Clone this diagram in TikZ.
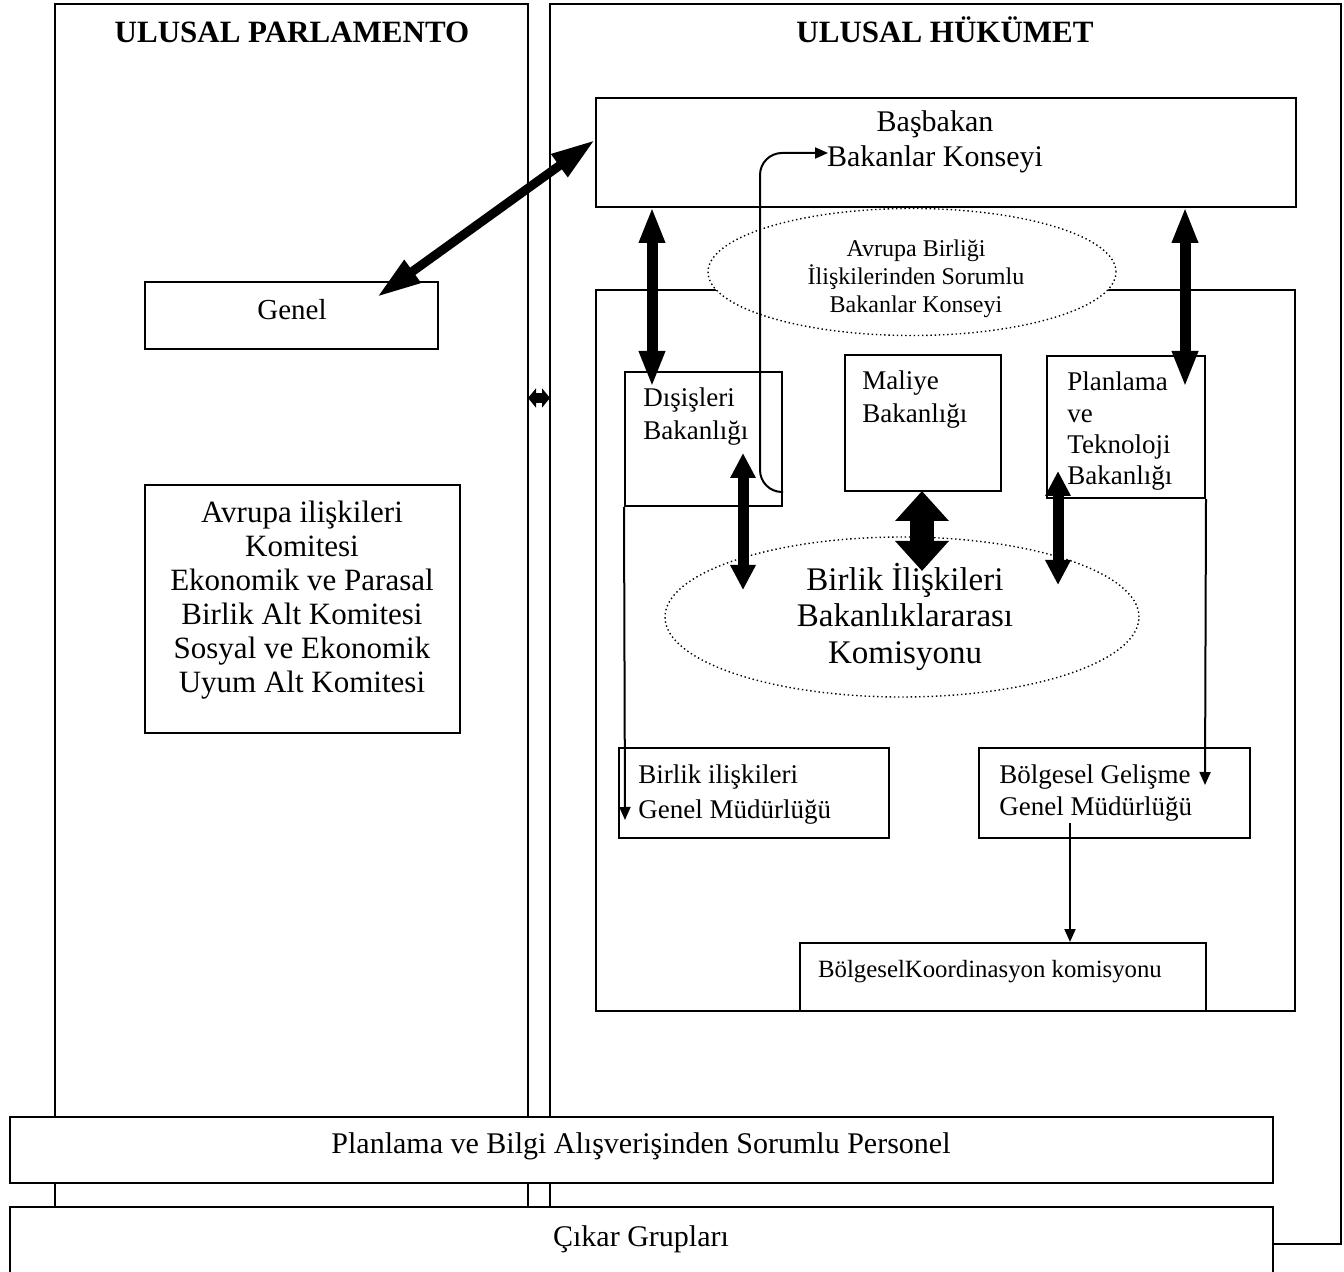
\documentclass[tikz,border=0pt]{standalone}
\usepackage{fontspec}
\setmainfont{Liberation Serif}
\usetikzlibrary{arrows.meta}
\usetikzlibrary{shapes.geometric}

\begin{document}
\begin{tikzpicture}
[x=0.5pt,y=-0.5pt,
  boxdecorate/.style={shape=rectangle,draw,line width=1pt,inner sep=0pt},%
  ovaldecorate/.style={shape=ellipse,draw,fill=white,inner sep=0pt,line width=0.7pt,dash pattern=on 0.7pt off 1.4pt},
  headtext/.style={inner sep=0pt,anchor=base,font=\fontsize{15.5}{18}\selectfont\bfseries},
  boxtext/.style={inner sep=0pt,anchor=base west,align=left,font=\fontsize{13.5}{16.5}\selectfont},
  longarrow/.style={{Triangle[length=18pt,width=12pt]}-{Triangle[length=18pt,width=12pt]},line width=5.5pt},
  shortarrow/.style={{Triangle[length=12.5pt,width=12pt]}-{Triangle[length=12.5pt,width=12pt]},line width=5.5pt},
  fatarrow/.style={{Triangle[length=15pt,width=26pt]}-{Triangle[length=15pt,width=26pt]},line width=12pt},
  thinarrow/.style={-{Triangle[length=6.5pt,width=5.5pt]},line width=1pt}]
\path[use as bounding box,fill=white] (0,0) rectangle (1344,1272);
% columns
\node (parl) at (291.5,620) [boxdecorate,minimum width=236.5pt,minimum height=616pt] {};
\node (huk) at (945.5,624) [boxdecorate,minimum width=395.5pt,minimum height=620pt] {};
% parliament side
\node (genel) at (291.5,315.5) [boxdecorate,minimum width=146.5pt,minimum height=33.5pt] {};
\node (komite) at (302.5,609) [boxdecorate,minimum width=157.5pt,minimum height=124pt] {};
% government side
\node (basbakan) at (946,152.5) [boxdecorate,minimum width=350pt,minimum height=54.5pt] {};
\node (bakanlik) at (945.5,650.5) [boxdecorate,minimum width=349.5pt,minimum height=360.5pt] {};
\node (abkonsey) at (912,272) [ovaldecorate,minimum width=204pt,minimum height=63.5pt] {};
\node (disisleri) at (703.5,439) [boxdecorate,minimum width=78.5pt,minimum height=67pt] {};
\node (maliye) at (923,423) [boxdecorate,minimum width=78pt,minimum height=68pt] {};
\node (planlama) at (1126,427) [boxdecorate,minimum width=79pt,minimum height=71pt] {};
\node (komisyon) at (902,617) [ovaldecorate,minimum width=237pt,minimum height=80pt] {};
\node (birlik) at (754,793) [boxdecorate,minimum width=135pt,minimum height=45pt] {};
\node (bolgesel) at (1114.5,793) [boxdecorate,minimum width=135.5pt,minimum height=45pt] {};
\node (koordinasyon) at (1003,977) [boxdecorate,minimum width=203pt,minimum height=34pt] {};
% bands across the bottom
\node (personel) at (641.5,1150) [boxdecorate,fill=white,minimum width=631.5pt,minimum height=33pt] {};
\node (cikar) at (641.5,1241.5) [boxdecorate,fill=white,minimum width=631.5pt,minimum height=34.5pt] {};
% texts (multi-line ones sit on their last line)
\node (parltitle) at (292,43) [headtext] {ULUSAL PARLAMENTO};
\node (huktitle) at (945,43) [headtext] {ULUSAL HÜKÜMET};
\node (bastext) at (935,132) [boxtext,anchor=base,font=\fontsize{15}{17}\selectfont] {Başbakan};
\node (bakkon) at (935,167) [boxtext,anchor=base,font=\fontsize{15}{17}\selectfont] {Bakanlar Konseyi};
\node (geneltext) at (292,320) [boxtext,anchor=base,font=\fontsize{14.5}{17}\selectfont] {Genel};
\node (komitetext) at (302,692) [boxtext,anchor=base,align=center,font=\fontsize{15.5}{17}\selectfont]
  {Avrupa ilişkileri\\Komitesi\\Ekonomik ve Parasal\\Birlik Alt Komitesi\\Sosyal ve Ekonomik\\Uyum Alt Komitesi};
\node (abtext) at (916,313) [boxtext,anchor=base,align=center,font=\fontsize{12}{14}\selectfont]
  {Avrupa Birliği\\İlişkilerinden Sorumlu\\Bakanlar Konseyi};
\node (disistext) at (643,440) [boxtext] {Dışişleri\\Bakanlığı};
\node (maliyetext) at (862,423) [boxtext] {Maliye\\Bakanlığı};
\node (planlamatext) at (1067,485) [boxtext,font=\fontsize{13.5}{15.7}\selectfont] {Planlama\\ve\\Teknoloji\\Bakanlığı};
\node (komisyontext) at (905,663) [boxtext,anchor=base,align=center,font=\fontsize{16.5}{18}\selectfont]
  {Birlik İlişkileri\\Bakanlıklararası\\Komisyonu};
\node (birliktext) at (638,818) [boxtext,font=\fontsize{13.5}{17.5}\selectfont] {Birlik ilişkileri\\Genel Müdürlüğü};
\node (bolgeseltext) at (999,815) [boxtext,font=\fontsize{13.5}{16}\selectfont] {Bölgesel Gelişme\\Genel Müdürlüğü};
\node (koordtext) at (990,977) [boxtext,anchor=base,font=\fontsize{12.4}{14}\selectfont] {BölgeselKoordinasyon komisyonu};
\node (personeltext) at (641,1153) [boxtext,anchor=base,font=\fontsize{15}{17}\selectfont] {Planlama ve Bilgi Alışverişinden Sorumlu Personel};
\node (cikartext) at (641,1246) [boxtext,anchor=base,font=\fontsize{15}{17}\selectfont] {Çıkar Grupları};
% arrow ends
\coordinate (genelin) at (377,297);
\coordinate (parlout) at (528,398);
\coordinate (hukin) at (550,398);
\coordinate (disup) at (652,207);
\coordinate (disdown) at (652,387);
\coordinate (planup) at (1185,207);
\coordinate (plandown) at (1185,387);
\coordinate (disout) at (743,453);
\coordinate (diskom) at (743,590);
\coordinate (maliyeout) at (922,491);
\coordinate (maliyekom) at (922,571);
\coordinate (planout) at (1058,471);
\coordinate (plankom) at (1058,585);
\coordinate (birlikin) at (625,820);
\coordinate (bolgeselin) at (1205,785);
\coordinate (bolgeselout) at (1070,823);
\coordinate (konseyin) at (828,153);
% edges or lines
\path
([yshift=6.25pt]basbakan.west) edge[longarrow,{Triangle[length=22pt,width=13pt]}-{Triangle[length=22pt,width=13pt]},line width=4.5pt] (genelin)
(parlout) edge[{Triangle[length=4pt,width=9.5pt]}-{Triangle[length=4pt,width=9.5pt]},line width=5pt] (hukin)
(disup) edge[longarrow] (disdown)
(planup) edge[longarrow] (plandown)
(disout) edge[shortarrow] (diskom)
(maliyeout) edge[fatarrow] (maliyekom)
(planout) edge[shortarrow] (plankom)
(disisleri.south west) edge[thinarrow] (birlikin)
(planlama.south east) edge[thinarrow] (bolgeselin)
(bolgeselout) edge[thinarrow] (koordinasyon.north -| bolgeselout);
\draw[thinarrow,rounded corners=11pt] ([yshift=-26.5pt]disisleri.east) -| (760,153) -- (konseyin);
\end{tikzpicture}
\end{document}
